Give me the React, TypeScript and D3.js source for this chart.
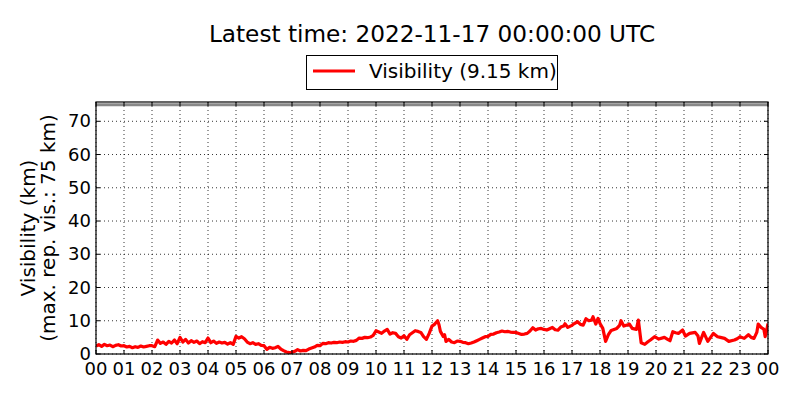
import React from "react";
import * as d3 from "d3";

const title = "Latest time: 2022-11-17 00:00:00 UTC";
const legendLabel = "Visibility (9.15 km)";
const yLabel1 = "Visibility (km)";
const yLabel2 = "(max. rep. vis.: 75 km)";
const maxRepVis = 75;

const xTickHours = [0, 1, 2, 3, 4, 5, 6, 7, 8, 9, 10, 11, 12, 13, 14, 15, 16, 17, 18, 19, 20, 21, 22, 23, 24];
const xTickLabels = ["00", "01", "02", "03", "04", "05", "06", "07", "08", "09", "10", "11", "12", "13", "14", "15", "16", "17", "18", "19", "20", "21", "22", "23", "00"];
const yTicks = [0, 10, 20, 30, 40, 50, 60, 70];

const hours = [
  0.0, 0.1, 0.2, 0.3, 0.4, 0.5, 0.6, 0.7, 0.8, 0.9,
  1.0, 1.1, 1.2, 1.3, 1.4, 1.5, 1.6, 1.7, 1.8, 1.9,
  2.0, 2.1, 2.2, 2.3, 2.4, 2.5, 2.6, 2.7, 2.8, 2.9,
  3.0, 3.1, 3.2, 3.3, 3.4, 3.5, 3.6, 3.7, 3.8, 3.9,
  4.0, 4.1, 4.2, 4.3, 4.4, 4.5, 4.6, 4.7, 4.8, 4.9,
  5.0, 5.1, 5.2, 5.3, 5.4, 5.5, 5.6, 5.7, 5.8, 5.9,
  6.0, 6.1, 6.2, 6.3, 6.4, 6.5, 6.6, 6.7, 6.8, 6.9,
  7.0, 7.1, 7.2, 7.3, 7.4, 7.5, 7.6, 7.7, 7.8, 7.9,
  8.0, 8.1, 8.2, 8.3, 8.4, 8.5, 8.6, 8.7, 8.8, 8.9,
  9.0, 9.1, 9.2, 9.3, 9.4, 9.5, 9.6, 9.7, 9.8, 9.9,
  10.0, 10.1, 10.2, 10.3, 10.4, 10.5, 10.6, 10.7, 10.8, 10.9,
  11.0, 11.1, 11.2, 11.3, 11.4, 11.5, 11.6, 11.7, 11.8, 11.9,
  12.0, 12.1, 12.2, 12.25, 12.3, 12.4, 12.45, 12.5, 12.6, 12.7, 12.8, 12.9,
  13.0, 13.1, 13.2, 13.3, 13.4, 13.5, 13.6, 13.7, 13.8, 13.9,
  14.0, 14.1, 14.2, 14.3, 14.4, 14.5, 14.6, 14.7, 14.8, 14.9,
  15.0, 15.1, 15.2, 15.3, 15.4, 15.5, 15.6, 15.7, 15.8, 15.9,
  16.0, 16.1, 16.2, 16.3, 16.4, 16.5, 16.6, 16.7, 16.75, 16.85,
  17.0, 17.05, 17.2, 17.3, 17.4, 17.5, 17.6, 17.7, 17.75, 17.85, 17.93,
  18.0, 18.1, 18.2, 18.3, 18.4, 18.5, 18.6, 18.7, 18.75, 18.85,
  19.0, 19.05, 19.15, 19.3, 19.37, 19.47, 19.6, 19.7, 19.8, 19.95,
  20.1, 20.3, 20.4, 20.5, 20.6, 20.7, 20.8, 20.95,
  21.05, 21.2, 21.4, 21.5, 21.55, 21.7, 21.85,
  22.05, 22.2, 22.3, 22.45, 22.6, 22.8, 22.9,
  23.0, 23.15, 23.3, 23.4, 23.5, 23.6, 23.65, 23.75, 23.85, 23.9, 23.95, 24.0,
];

const visibility = [
  2.4, 2.8, 2.3, 2.9, 2.5, 2.7, 2.2, 2.6, 2.8, 2.4,
  2.5, 2.1, 2.3, 1.9, 2.2, 2.0, 2.4, 2.1, 2.3, 2.5,
  2.5, 2.2, 4.2, 3.2, 3.6, 2.9, 3.8, 3.3, 4.2, 3.1,
  5.0, 3.6, 4.4, 3.3, 4.0, 3.5, 3.9, 3.1, 3.7, 3.4,
  4.8, 3.4, 3.9, 3.2, 3.6, 3.3, 3.5, 3.0, 3.4, 2.9,
  5.3, 4.8, 5.2, 4.6, 3.6, 3.1, 3.4, 2.9, 3.1, 2.6,
  2.5, 1.4, 2.0, 1.7, 1.9, 2.3, 1.5, 1.0, 0.6, 0.4,
  0.5, 0.8, 1.3, 0.9, 1.1, 1.0, 1.5, 1.8, 2.1, 2.6,
  2.5, 3.2, 3.1, 3.4, 3.3, 3.5, 3.4, 3.6, 3.5, 3.7,
  3.6, 3.9, 3.8, 4.1, 4.8, 4.7, 5.0, 4.9, 5.1, 5.6,
  7.0, 6.6, 6.2, 6.9, 7.4, 6.0, 6.4, 6.2, 5.2, 4.8,
  5.5, 4.4, 5.8, 6.4, 7.0, 6.8, 6.5, 5.2, 4.4, 6.2,
  8.4, 9.0, 10.0, 8.8, 6.8, 5.3, 5.8, 3.8, 4.4, 3.6, 3.4, 3.9,
  3.8, 3.5, 3.4, 3.1, 3.3, 3.6, 4.0, 4.4, 4.8, 5.2,
  5.3, 5.9, 6.0, 6.4, 6.6, 6.9, 6.7, 6.8, 6.6, 6.5,
  6.5, 6.2, 5.9, 6.0, 6.2, 6.9, 7.9, 7.2, 7.6, 7.7,
  7.4, 7.2, 7.6, 8.0, 7.3, 7.2, 8.1, 8.4, 9.1, 8.0,
  8.6, 9.0, 9.7, 8.9, 8.7, 10.6, 10.0, 10.2, 11.2, 9.0, 10.7,
  9.2, 7.7, 3.8, 5.8, 7.1, 7.4, 7.7, 8.6, 10.0, 8.4,
  8.8, 9.0, 7.7, 7.4, 10.2, 3.4, 2.9, 3.6, 4.2, 5.2,
  4.5, 5.0, 4.5, 4.0, 6.7, 6.4, 6.2, 7.2,
  5.4, 6.2, 6.5, 5.4, 3.2, 6.5, 3.8,
  6.2, 5.2, 5.0, 4.7, 3.8, 4.2, 4.6,
  5.2, 4.7, 5.8, 5.0, 4.7, 6.5, 9.0, 8.0, 7.5, 5.2, 7.0, 9.15,
];

const W = 800;
const H = 400;
const L = 96;
const R = 768;
const T = 102;
const B = 354;
const FONT = "'DejaVu Sans', 'Liberation Sans', sans-serif";

export default function App() {
  const x = d3.scaleLinear().domain([0, 24]).range([L, R]);
  const y = d3.scaleLinear().domain([0, 75.8]).range([B, T]);
  const pts: [number, number][] = hours.map((h, i) => [h, visibility[i]]);
  const line = d3
    .line<[number, number]>()
    .x((d) => x(d[0]))
    .y((d) => y(d[1]));
  const tickLen = 4;

  return (
    <svg
      width={W}
      height={H}
      viewBox={`0 0 ${W} ${H}`}
      style={{ position: "absolute", left: 0, top: 0, background: "#fff" }}
      fontFamily={FONT}
    >
      <rect x={0} y={0} width={W} height={H} fill="#fff" />
      <defs>
        <clipPath id="plotclip">
          <rect x={L} y={T} width={R - L} height={B - T} />
        </clipPath>
      </defs>

      {/* grid */}
      <g stroke="#000" strokeWidth={0.8} strokeDasharray="1,3">
        {xTickHours.map((h, i) => (
          <line key={"gx" + i} x1={x(h)} x2={x(h)} y1={T} y2={B} />
        ))}
        {yTicks.map((v, i) => (
          <line key={"gy" + i} x1={L} x2={R} y1={y(v)} y2={y(v)} />
        ))}
      </g>

      {/* max rep vis line and data */}
      <g clipPath="url(#plotclip)">
        <line x1={L} x2={R} y1={y(maxRepVis)} y2={y(maxRepVis)} stroke="#888" strokeWidth={3} />
        <path d={line(pts) || ""} fill="none" stroke="#ff0000" strokeWidth={3.2} strokeLinejoin="round" />
      </g>

      {/* ticks */}
      <g stroke="#000" strokeWidth={1}>
        {xTickHours.map((h, i) => (
          <g key={"tx" + i}>
            <line x1={x(h)} x2={x(h)} y1={B} y2={B - tickLen} />
            <line x1={x(h)} x2={x(h)} y1={T} y2={T + tickLen} />
          </g>
        ))}
        {yTicks.map((v, i) => (
          <g key={"ty" + i}>
            <line x1={L} x2={L + tickLen} y1={y(v)} y2={y(v)} />
            <line x1={R} x2={R - tickLen} y1={y(v)} y2={y(v)} />
          </g>
        ))}
      </g>

      {/* frame */}
      <rect x={L} y={T} width={R - L} height={B - T} fill="none" stroke="#000" strokeWidth={1.2} />

      {/* tick labels */}
      <g fontSize={18} fill="#000">
        {xTickHours.map((h, i) => (
          <text key={"lx" + i} x={x(h)} y={374.5} textAnchor="middle">
            {xTickLabels[i]}
          </text>
        ))}
        {yTicks.map((v, i) => (
          <text key={"ly" + i} x={91} y={y(v) + 6} textAnchor="end">
            {v}
          </text>
        ))}
      </g>

      {/* y labels */}
      <g fontSize={20} fill="#000" transform={`translate(35, ${(T + B) / 2}) rotate(-90)`}>
        <text x={0} y={0} textAnchor="middle">
          {yLabel1}
        </text>
        <text x={0} y={20} textAnchor="middle">
          {yLabel2}
        </text>
      </g>

      {/* title */}
      <text x={(L + R) / 2} y={42} textAnchor="middle" fontSize={23.2} fill="#000">
        {title}
      </text>

      {/* legend */}
      <rect x={306.5} y={55.5} width={251} height={34} fill="#fff" stroke="#000" strokeWidth={1} />
      <line x1={313} x2={355} y1={71} y2={71} stroke="#ff0000" strokeWidth={3} />
      <text x={369} y={78} fontSize={20} fill="#000">
        {legendLabel}
      </text>
    </svg>
  );
}
